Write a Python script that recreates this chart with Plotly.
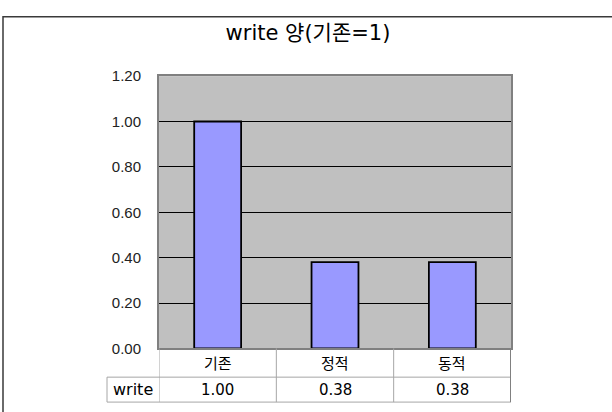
import plotly.graph_objects as go

# Chart data
categories = ["기존", "정적", "동적"]
write_values = [1.00, 0.38, 0.38]
series_name = "write"
title_text = "write 양(기존=1)"
y_ticks = [0.0, 0.2, 0.4, 0.6, 0.8, 1.0, 1.2]

W, H = 612, 412
FONT = "Liberation Sans, Noto Sans CJK KR, sans-serif"
WIDE_FONT = "DejaVu Sans, Noto Sans CJK KR, sans-serif"


def fx(px):
    return px / W


def fy(py):
    return 1 - py / H


# Plot-area and data-table geometry (pixels)
PLOT_L, PLOT_R, PLOT_T, PLOT_B = 159, 511, 70, 354
ROW_SPLIT, TABLE_B = 384, 410
LABEL_L = 107

fig = go.Figure()
fig.add_trace(go.Bar(
    x=categories,
    y=write_values,
    name=series_name,
    width=0.4,
    marker=dict(color="#9999FF", line=dict(color="black", width=1.8)),
    hoverinfo="skip",
))

shapes = []
grey = "#a6a6a6"
# outer chart frame
shapes.append(dict(type="rect", xref="paper", yref="paper",
                   x0=fx(3), x1=fx(W + 10), y0=fy(H + 10), y1=fy(8),
                   line=dict(color="#3a3a3a", width=1.5), fillcolor="rgba(0,0,0,0)", layer="below"))
# data table: horizontal rules
shapes.append(dict(type="line", xref="paper", yref="paper",
                   x0=fx(LABEL_L), x1=fx(PLOT_R), y0=fy(ROW_SPLIT), y1=fy(ROW_SPLIT),
                   line=dict(color=grey, width=1)))
shapes.append(dict(type="line", xref="paper", yref="paper",
                   x0=fx(LABEL_L), x1=fx(PLOT_R), y0=fy(TABLE_B), y1=fy(TABLE_B),
                   line=dict(color=grey, width=1)))
# left edge of series-name cell
shapes.append(dict(type="line", xref="paper", yref="paper",
                   x0=fx(LABEL_L), x1=fx(LABEL_L), y0=fy(ROW_SPLIT), y1=fy(TABLE_B),
                   line=dict(color=grey, width=1)))
# column separators at category boundaries
for i in range(len(categories) + 1):
    xb = i - 0.5
    last = i == len(categories)
    shapes.append(dict(type="line", xref="x", yref="paper",
                       x0=xb, x1=xb, y0=fy(PLOT_B), y1=fy(TABLE_B),
                       line=dict(color="#808080" if last else grey, width=2 if last else 1)))

annotations = []
for i, (cat, val) in enumerate(zip(categories, write_values)):
    annotations.append(dict(x=i, y=fy(370), xref="x", yref="paper", text=cat,
                            showarrow=False, font=dict(size=15, color="black", family=WIDE_FONT),
                            xanchor="center", yanchor="middle"))
    annotations.append(dict(x=i, y=fy(397), xref="x", yref="paper", text=f"{val:.2f}",
                            showarrow=False, font=dict(size=15, color="black", family=WIDE_FONT),
                            xanchor="center", yanchor="middle"))
annotations.append(dict(x=fx((LABEL_L + PLOT_L) / 2), y=fy(397), xref="paper", yref="paper",
                        text=series_name, showarrow=False,
                        font=dict(size=16, color="black", family=WIDE_FONT),
                        xanchor="center", yanchor="middle"))

fig.update_layout(
    width=W, height=H,
    margin=dict(l=0, r=0, t=0, b=0),
    paper_bgcolor="white",
    plot_bgcolor="#C0C0C0",
    showlegend=False,
    font=dict(family=FONT, color="black"),
    title=dict(text=title_text, x=fx(308), y=fy(33), xanchor="center", yanchor="middle",
               font=dict(size=21, color="black", family=WIDE_FONT)),
    xaxis=dict(domain=[fx(PLOT_L), fx(PLOT_R)], type="category", range=[-0.5, 2.5],
               showticklabels=False, ticks="", showgrid=False,
               showline=True, linecolor="#808080", linewidth=2, mirror=True),
    yaxis=dict(domain=[fy(PLOT_B), fy(PLOT_T)], range=[0, 1.2],
               tickvals=y_ticks, tickformat=".2f", tickfont=dict(size=15, color="#222222"),
               showgrid=True, gridcolor="black", gridwidth=1, zeroline=False,
               showline=True, linecolor="#808080", linewidth=2, mirror=True,
               ticks="", ticklabelstandoff=13),
    shapes=shapes,
    annotations=annotations,
)

fig.write_html("out.html")
